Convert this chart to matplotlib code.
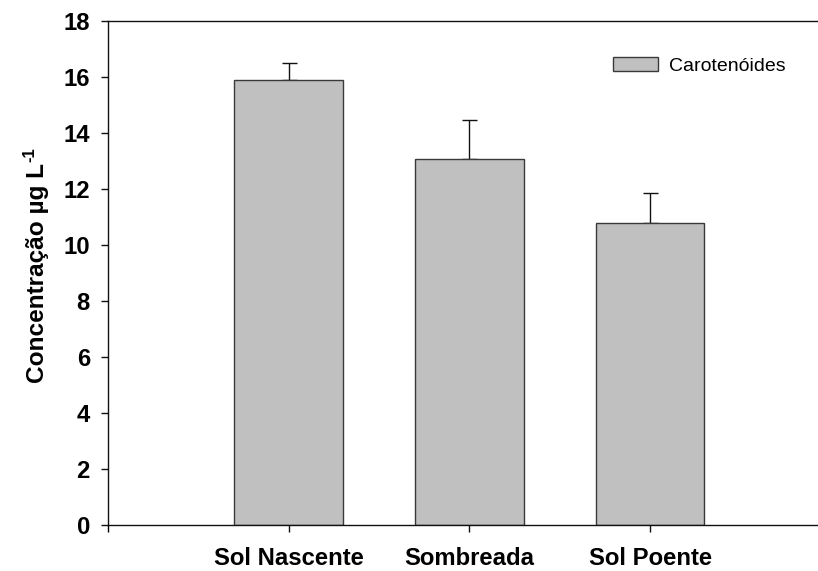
import matplotlib
matplotlib.use("Agg")
import matplotlib.pyplot as plt
import numpy as np

categories = ["Sol Nascente", "Sombreada", "Sol Poente"]
values = [15.9, 13.07, 10.8]
errors = [0.6, 1.4, 1.05]
yticks = [0, 2, 4, 6, 8, 10, 12, 14, 16, 18]

plt.rcParams['font.family'] = ['Liberation Sans', 'DejaVu Sans']

W, H = 818, 571
fig = plt.figure(figsize=(W/100, H/100), dpi=100)
left, right = 108, 108 + 4*180.7
top, bottom = 21.3, 525.3
ax = fig.add_axes([left/W, 1 - bottom/H, (right-left)/W, (bottom-top)/H])

x = np.arange(1, len(categories)+1)
ax.bar(x, values, width=0.6, color='#c0c0c0', edgecolor='#3a3a3a', linewidth=1.0,
       label='Carotenóides', zorder=2)
ax.errorbar(x, values, yerr=[np.zeros(len(errors)), errors], fmt='none',
            ecolor='#111111', elinewidth=1.0, capsize=7.5*0.72, capthick=1.0, zorder=1)

ax.set_xlim(0, 4)
ax.set_ylim(0, 18)
ax.set_xticks(x)
ax.set_xticklabels(categories, fontsize=17.2, fontweight='bold')
ax.set_yticks(yticks)
ax.set_yticklabels([str(t) for t in yticks], fontsize=17.2, fontweight='bold')
ax.tick_params(axis='both', direction='out', length=5, width=1.0, color='#111111')
ax.tick_params(axis='x', pad=10.5)
ax.tick_params(axis='y', pad=8)
ax.set_xticks([0], minor=True)
ax.tick_params(axis='x', which='minor', length=5, width=1.0, direction='out')

for s in ax.spines.values():
    s.set_linewidth(1.0)
    s.set_color('#111111')

ylab = ax.set_ylabel('Concentração µg L', fontsize=17.6, fontweight='bold', labelpad=10)

ax.legend(loc='upper left', bbox_to_anchor=(613/W, 1 - 57/H), bbox_transform=fig.transFigure,
          frameon=False, fontsize=14, handlelength=2.3, handleheight=0.72,
          handletextpad=0.57, borderpad=0, borderaxespad=0)

# superscript "-1" after the rotated label
fig.canvas.draw()
bb = ylab.get_window_extent(fig.canvas.get_renderer())
fs = 17.6 * 100 / 72.0
cap_top_x = bb.x0 + (0.905 - 0.716) * fs
fig.text((cap_top_x + 6) / W, (bb.y1 + 1) / H, '-1', rotation=90, fontsize=12,
         fontweight='bold', ha='right', va='bottom')

fig.savefig('out.png', dpi=100)
